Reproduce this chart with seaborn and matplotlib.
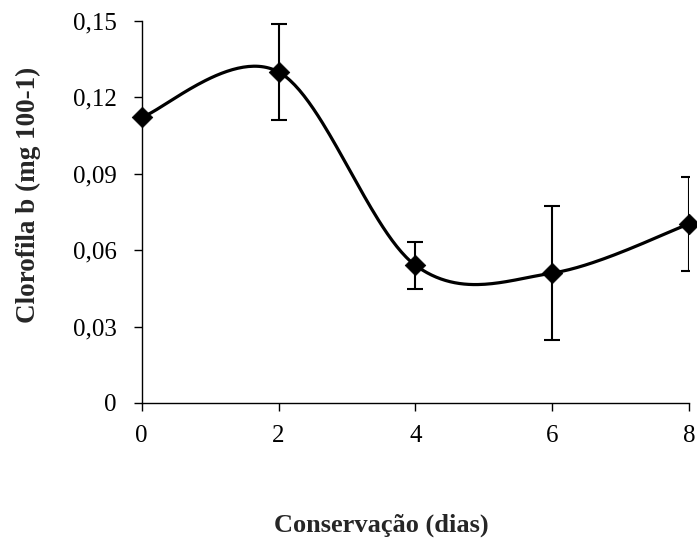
import numpy as np
import pandas as pd
import matplotlib
matplotlib.use("Agg")
import matplotlib.pyplot as plt
import seaborn as sns
from matplotlib.ticker import FuncFormatter

# data
dias = [0, 2, 4, 6, 8]
clorofila = [0.1122, 0.1300, 0.0541, 0.0510, 0.0703]
erro = [0.0, 0.0187, 0.0092, 0.0263, 0.0184]
x_ticks = [0, 2, 4, 6, 8]
y_ticks = [0, 0.03, 0.06, 0.09, 0.12, 0.15]
x_label = "Conservação (dias)"
y_label = "Clorofila b (mg 100-1)"

sns.set_theme(style="white")
plt.rcParams['font.family'] = ['Liberation Serif', 'DejaVu Serif']

def catmull_rom(xs, ys, n=60):
    P = np.column_stack([xs, ys]).astype(float)
    P = np.vstack([P[0], P, P[-1]])
    out = []
    for i in range(1, len(P) - 2):
        p0, p1, p2, p3 = P[i - 1], P[i], P[i + 1], P[i + 2]
        c1 = p1 + (p2 - p0) / 6.0
        c2 = p2 - (p3 - p1) / 6.0
        t = np.linspace(0, 1, n)[:, None]
        seg = ((1 - t) ** 3) * p1 + 3 * ((1 - t) ** 2) * t * c1 + 3 * (1 - t) * t ** 2 * c2 + t ** 3 * p2
        out.append(seg if i == 1 else seg[1:])
    return np.vstack(out)

df = pd.DataFrame({"dias": dias, "clorofila": clorofila, "erro": erro})
curve = catmull_rom(dias, clorofila)
cdf = pd.DataFrame({"x": curve[:, 0], "y": curve[:, 1]})

fig = plt.figure(figsize=(6.97, 5.5), dpi=100)
ax = fig.add_axes([0.2033, 0.2673, 0.7852, 0.6945])

sns.lineplot(data=cdf, x="x", y="y", sort=False, color="black", linewidth=2.3, ax=ax, zorder=2)
ax.errorbar(df["dias"], df["clorofila"], yerr=df["erro"], fmt="none", ecolor="black",
            elinewidth=1.5, capsize=5.5, capthick=1.5, zorder=3)
sns.scatterplot(data=df, x="dias", y="clorofila", marker="D", s=10.5 ** 2, color="black",
                edgecolor="black", linewidth=0.5, ax=ax, zorder=4, clip_on=False)

ax.set_xlim(0, 8)
ax.set_ylim(0, 0.15)
ax.set_xticks(x_ticks)
ax.set_yticks(y_ticks)
ax.yaxis.set_major_formatter(FuncFormatter(lambda v, p: "0" if v == 0 else f"{v:.2f}".replace(".", ",")))
ax.xaxis.set_major_formatter(FuncFormatter(lambda v, p: f"{int(v)}"))
for s in ["top", "right"]:
    ax.spines[s].set_visible(False)
for s in ["left", "bottom"]:
    ax.spines[s].set_color("black")
    ax.spines[s].set_linewidth(1.0)
ax.tick_params(axis="both", direction="out", length=6, width=1.0, color="black",
               labelsize=18, labelcolor="black", left=True, bottom=True)
ax.tick_params(axis="y", pad=12)
ax.tick_params(axis="x", pad=10)
ax.set_xlabel("")
ax.set_ylabel("")

fig.text(381 / 697, 1 - 525 / 550, x_label, ha="center", va="center", fontsize=19, fontweight="bold")
fig.text(28 / 697, 1 - 195 / 550, y_label, ha="center", va="center", rotation=90,
         fontsize=19.5, fontweight="bold")

fig.savefig("out.png", dpi=100)
